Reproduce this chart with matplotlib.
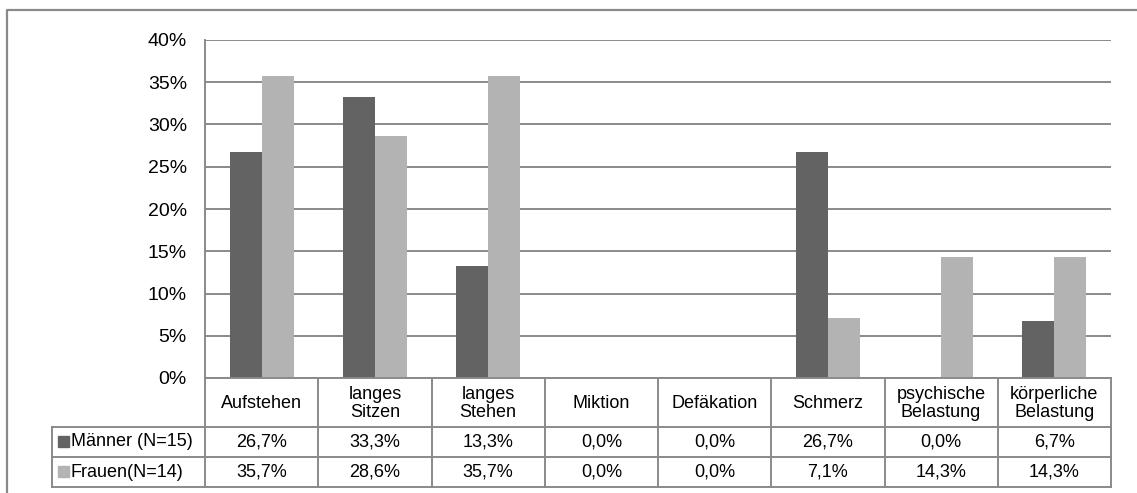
import matplotlib
matplotlib.use("Agg")
import matplotlib.pyplot as plt
from matplotlib.patches import Rectangle

plt.rcParams["font.family"] = ["Liberation Sans", "DejaVu Sans"]

# ── Daten ─────────────────────────────────────────────
kategorien = ["Aufstehen", "langes\nSitzen", "langes\nStehen", "Miktion",
              "Defäkation", "Schmerz", "psychische\nBelastung", "körperliche\nBelastung"]
maenner = [26.7, 33.3, 13.3, 0.0, 0.0, 26.7, 0.0, 6.7]
frauen = [35.7, 28.6, 35.7, 0.0, 0.0, 7.1, 14.3, 14.3]
serien = ["Männer (N=15)", "Frauen(N=14)"]
yticks = [0, 5, 10, 15, 20, 25, 30, 35, 40]

C_M = "#636363"
C_F = "#b3b3b3"
C_LINE = "#8a8a8a"

W, H = 1137, 493
fig = plt.figure(figsize=(W / 100, H / 100), dpi=100)

# Pixel-Layout
px_l, px_r = 205, 1111
px_top, px_bot = 40, 378
tab_l = 52
row_y = [378, 426.5, 456.5, 487]


def fx(px):
    return px / W


def fy(py):
    return 1 - py / H


# ── Balkendiagramm ────────────────────────────────────
ax = fig.add_axes([fx(px_l), fy(px_bot), fx(px_r - px_l), (px_bot - px_top) / H])
n = len(kategorien)
x = list(range(n))
bw = 0.283
ax.bar([i - bw / 2 for i in x], maenner, bw, color=C_M, zorder=3)
ax.bar([i + bw / 2 for i in x], frauen, bw, color=C_F, zorder=3)
ax.set_xlim(-0.5, n - 0.5)
ax.set_ylim(0, 40)
ax.set_yticks(yticks)
ax.set_yticklabels([f"{v}%" for v in yticks], fontsize=14, color="#000")
ax.tick_params(axis="y", length=0, pad=13)
ax.tick_params(axis="x", length=0, labelbottom=False)
ax.grid(axis="y", color=C_LINE, linewidth=1.4, zorder=0)
for s in ["top", "right", "bottom"]:
    ax.spines[s].set_visible(False)
ax.spines["left"].set_color(C_LINE)
ax.spines["left"].set_linewidth(1.4)

# ── Datentabelle + Rahmen (Pixelkoordinaten) ─────────
ov = fig.add_axes([0, 0, 1, 1], zorder=5)
ov.set_xlim(0, W)
ov.set_ylim(H, 0)
ov.axis("off")

# äußerer Rahmen
ov.plot([7, 7, W + 5], [H + 5, 10, 10], color=C_LINE, lw=1.6, solid_capstyle="butt")

cw = (px_r - px_l) / n
lw = 1.4
# horizontale Linien
ov.plot([px_l, px_r], [row_y[0], row_y[0]], color=C_LINE, lw=lw)
for yy in row_y[1:]:
    ov.plot([tab_l, px_r], [yy, yy], color=C_LINE, lw=lw)
# vertikale Linien
ov.plot([tab_l, tab_l], [row_y[1], row_y[3]], color=C_LINE, lw=lw)
for i in range(n + 1):
    xx = px_l + i * cw
    ov.plot([xx, xx], [row_y[0], row_y[3]], color=C_LINE, lw=lw)

fs = 13
# Kopfzeile
for i, k in enumerate(kategorien):
    cx = px_l + (i + 0.5) * cw
    ov.text(cx, (row_y[0] + row_y[1]) / 2 + 1, k, ha="center", va="center",
            fontsize=fs, linespacing=1.08)

# Datenzeilen
for r, (name, vals, col) in enumerate(zip(serien, [maenner, frauen], [C_M, C_F])):
    cy = (row_y[r + 1] + row_y[r + 2]) / 2
    ov.add_patch(Rectangle((58, cy - 5.5), 11, 11, color=col))
    ov.text(71, cy + 0.5, name, ha="left", va="center", fontsize=fs)
    for i, v in enumerate(vals):
        cx = px_l + (i + 0.5) * cw
        ov.text(cx, cy + 0.5, f"{v:.1f}%".replace(".", ","), ha="center",
                va="center", fontsize=fs)

fig.savefig("out.png", dpi=100)
